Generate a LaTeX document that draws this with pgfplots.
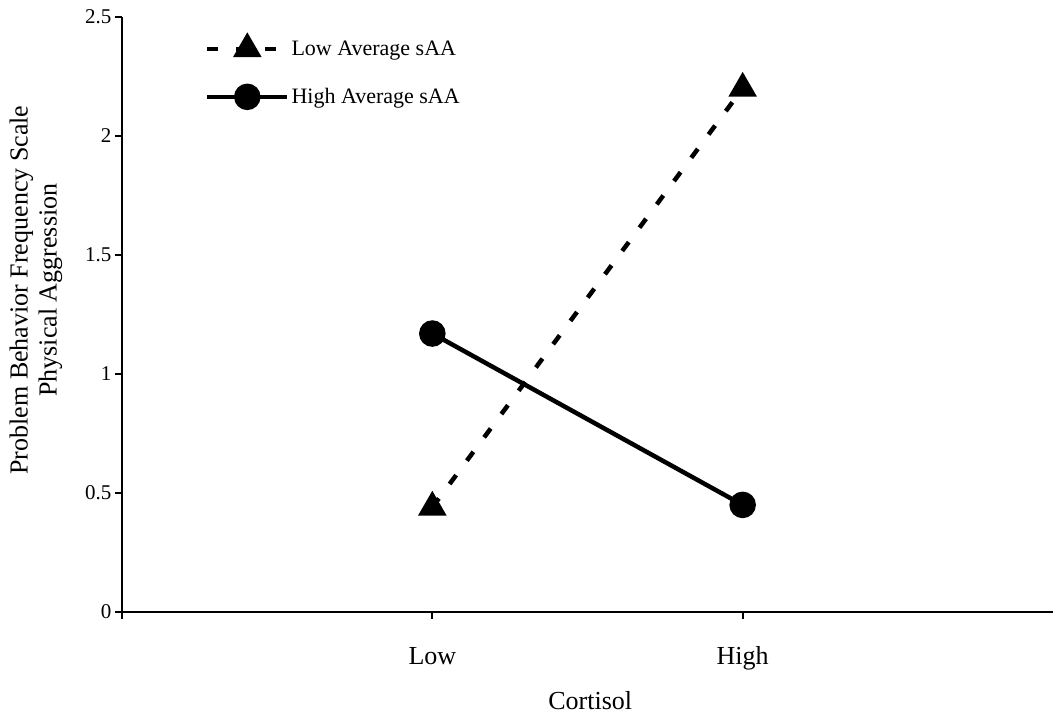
\documentclass[border=0pt]{standalone}
\usepackage{fontspec}
\setmainfont{Liberation Serif}
\usepackage{pgfplots}
\pgfplotsset{compat=1.18}
\begin{document}
\begin{tikzpicture}
\path[use as bounding box] (-122bp,-107bp) rectangle (931bp,612bp);
\begin{axis}[
  at={(0,0)}, anchor=south west,
  scale only axis,
  width=931bp, height=595bp,
  xmin=0, xmax=3, ymin=0, ymax=2.5,
  axis x line*=bottom, axis y line*=left,
  axis line style={line width=1.8bp, -},
  xtick={0,1,2}, xticklabels={,Low,High},
  ytick={0,0.5,1,1.5,2,2.5},
  yticklabels={0,0.5,1,1.5,2,2.5},
  tick align=outside,
  major tick length=7bp,
  tick style={line width=1.8bp, black},
  /pgf/number format/assume math mode=true,
  yticklabel style={font=\fontsize{21bp}{24bp}\selectfont},
  xticklabel style={font=\fontsize{26bp}{30bp}\selectfont, anchor=base, yshift=-45bp},
  xlabel={Cortisol},
  xlabel style={font=\fontsize{26bp}{30bp}\selectfont, at={(rel axis cs:0.503,0)}, anchor=base, yshift=-97bp},
  ylabel={Problem Behavior Frequency Scale\\Physical Aggression},
  ylabel style={font=\fontsize{26bp}{29bp}\selectfont, align=center, at={(rel axis cs:-0.0924,0.541)}, anchor=center, rotate=0},
  legend image code/.code={\draw[mark repeat=2,mark phase=2,#1] plot coordinates {(0bp,0bp) (40bp,0bp) (80bp,0bp)};},
  legend style={draw=none, fill=none, at={(rel axis cs:0.089,0.967)}, anchor=north west,
    font=\fontsize{22bp}{26bp}\selectfont, row sep=27bp, inner sep=0pt},
  legend cell align=left,
  clip=false,
]
\addplot[black, line width=4.5bp, dash pattern=on 11bp off 18bp, mark=triangle*, mark size=12bp, mark options={solid}]
  coordinates {(1,0.44) (2,2.2)};
\addlegendentry{Low Average sAA}
\addplot[black, line width=4.5bp, mark=*, mark size=11bp, mark options={solid}]
  coordinates {(1,1.17) (2,0.45)};
\addlegendentry{High Average sAA}
\end{axis}
\end{tikzpicture}
\end{document}
